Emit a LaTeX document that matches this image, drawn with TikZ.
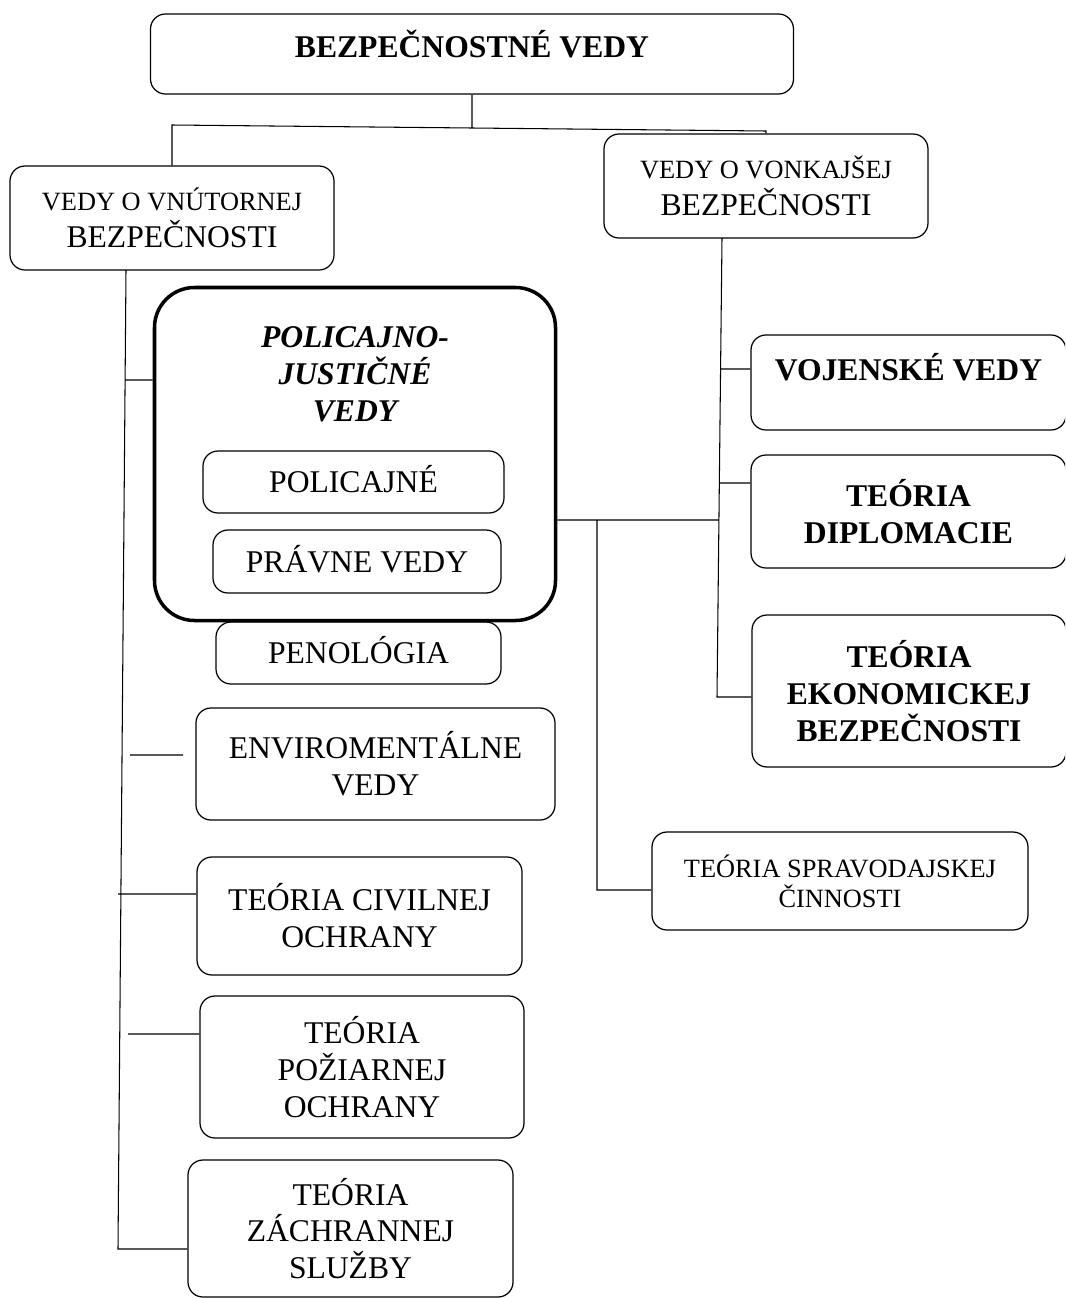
\documentclass[tikz,border=0pt]{standalone}
\usepackage{fontspec}
\setmainfont{Liberation Serif}
\tikzset{
  boxwh/.style 2 args={minimum width=#1*0.02cm,minimum height=#2*0.02cm},
  box/.style={draw,rounded corners=0.3cm,align=center,inner sep=0pt,font=\fontsize{18}{21}\selectfont},
  bbox/.style={box,font=\fontsize{18}{21}\selectfont\bfseries},
  smallbox/.style={box,font=\fontsize{15}{17}\selectfont},
  capmid/.style={text height=0.42cm,text depth=0pt},
  pjframe/.style={draw,rounded corners=0.8cm,line width=2pt,inner sep=0pt},
  pjtitle/.style={align=center,inner sep=0pt,font=\fontsize{18}{21}\selectfont\bfseries\itshape}
}
\begin{document}
\begin{tikzpicture}[x=0.02cm,y=-0.02cm,line width=0.7pt]

\clip (0,0) rectangle (1065,1298);

\node[bbox,boxwh={643}{80},text height=0.5cm,text depth=0.34cm] (top) at (472,54) {BEZPEČNOSTNÉ VEDY};
\node[box,boxwh={324}{104}] (inner) at (172,218) {{\fontsize{15}{17}\selectfont VEDY O VNÚTORNEJ}\\BEZPEČNOSTI};
\node[box,boxwh={324}{104}] (outer) at (766,186) {{\fontsize{15}{17}\selectfont VEDY O VONKAJŠEJ}\\BEZPEČNOSTI};

\node[pjframe,boxwh={401}{333}] (pj) at (355,454) {};
\node[pjtitle,anchor=north] (pjt) at (355,326) {POLICAJNO-\\JUSTIČNÉ\\VEDY};
\node[box,capmid,boxwh={301}{62}] (pol) at (353.5,482) {POLICAJNÉ};
\node[box,capmid,boxwh={288}{63}] (prav) at (357,561.5) {PRÁVNE VEDY};
\node[box,capmid,boxwh={285}{62}] (peno) at (358.5,653) {PENOLÓGIA};

\node[box,boxwh={359}{112}] (env) at (375.5,764) {ENVIROMENTÁLNE\\VEDY};
\node[box,boxwh={325}{118}] (civ) at (359.5,916) {TEÓRIA CIVILNEJ\\OCHRANY};
\node[box,boxwh={324}{142}] (poz) at (362,1067) {TEÓRIA\\POŽIARNEJ\\OCHRANY};
\node[box,boxwh={325}{137}] (zach) at (350.5,1228.5) {TEÓRIA\\ZÁCHRANNEJ\\SLUŽBY};

\node[bbox,boxwh={315}{95},text height=0.5cm,text depth=0.6cm] (voj) at (908.5,382.5) {VOJENSKÉ VEDY};
\node[bbox,boxwh={315}{113}] (dip) at (908.5,511.5) {TEÓRIA\\DIPLOMACIE};
\node[bbox,boxwh={314}{152}] (ekon) at (909,691) {TEÓRIA\\EKONOMICKEJ\\BEZPEČNOSTI};
\node[smallbox,boxwh={376}{98}] (sprav) at (840,881) {TEÓRIA SPRAVODAJSKEJ\\ČINNOSTI};

\coordinate (jt) at (472,128);
\coordinate (jl) at (172,125);
\coordinate (jr) at (766,131);
\coordinate (ls) at (126,270);
\coordinate (le) at (118,1249);
\coordinate (l1) at (125,380);
\coordinate (e1) at (130,755);
\coordinate (e2) at (183,755);
\coordinate (l3) at (118,894);
\coordinate (l4) at (128,1034);
\coordinate (rs) at (722,238);
\coordinate (re) at (717,697);
\coordinate (r1) at (720,369);
\coordinate (r2) at (719,483);
\coordinate (r3) at (718,520);
\coordinate (b1) at (597,520);
\coordinate (b2) at (597,890);

\path [draw,line width=0.6pt]
    (top.south) -- (jt)
    (inner.north) -- (jl) -- (jt) -- (jr) -- (outer.north)
    (ls) -- (le) -- (le -| zach.west)
    (l1) -- (l1 -| pj.west)
    (e1) -- (e2)
    (l3) -- (l3 -| civ.west)
    (l4) -- (l4 -| poz.west)
    (rs) -- (re) -- (re -| ekon.west)
    (r1) -- (r1 -| voj.west)
    (r2) -- (r2 -| dip.west)
    (r3 -| pj.east) -- (r3)
    (b1) -- (b2) -- (b2 -| sprav.west)
;

\end{tikzpicture}
\end{document}
